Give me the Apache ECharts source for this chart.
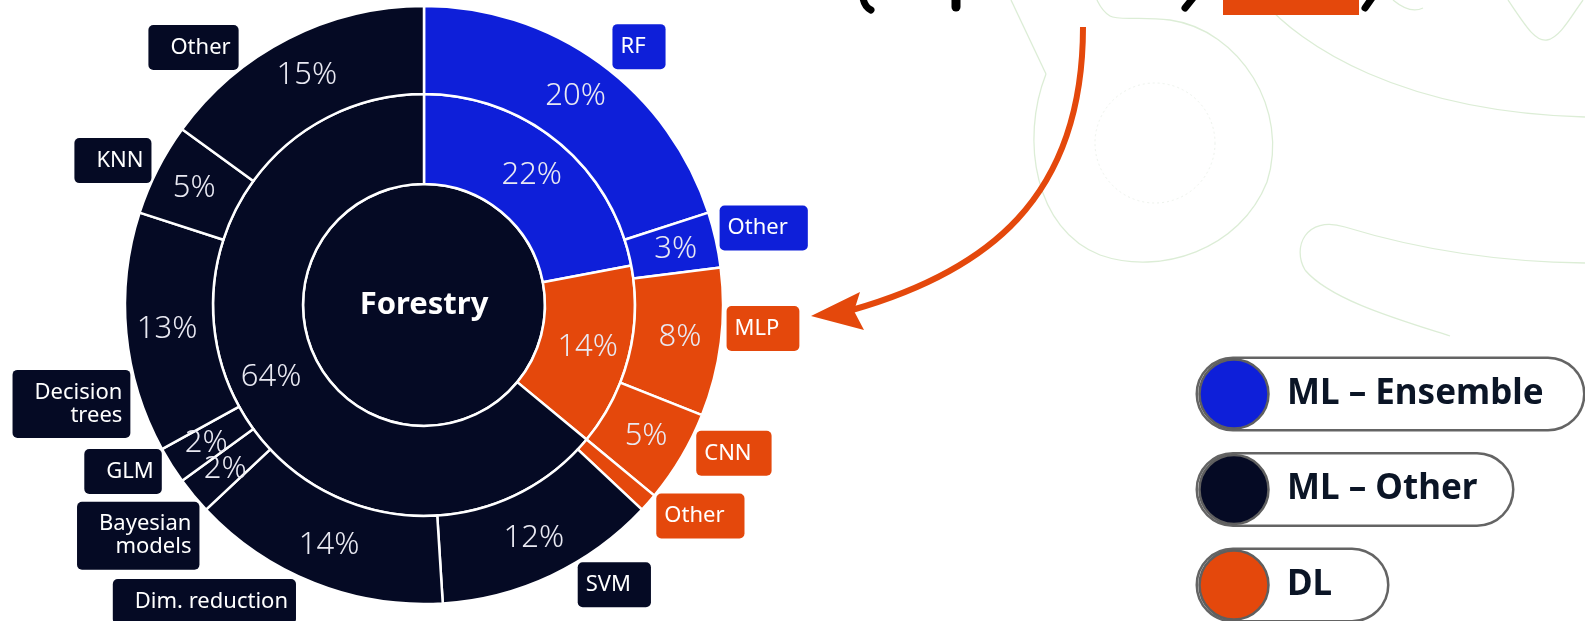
<!DOCTYPE html>
<html>
<head>
<meta charset="utf-8">
<script src="https://cdn.jsdelivr.net/npm/echarts@6/dist/echarts.min.js"></script>
<style>
  html, body { margin: 0; padding: 0; background: #ffffff; }
  #chart { width: 1585px; height: 621px; }
</style>
</head>
<body>
<div id="chart"></div>
<script>
// Inner ring: model families (share of studies, %)
const familyNames = ['ML – Ensemble', 'DL', 'ML – Other'];
const familyShares = [22, 14, 64];
const familyColors = ['#0e1fd9', '#e4480c', '#050a24'];

// Outer ring: individual methods in ring order, with the family each belongs to
const methodNames = ['RF', 'Other', 'MLP', 'CNN', 'Other', 'SVM', 'Dim. reduction',
  'Bayesian\nmodels', 'GLM', 'Decision\ntrees', 'KNN', 'Other'];
const methodShares = [20, 3, 8, 5, 1, 12, 14, 2, 2, 13, 5, 15];
const methodFamily = [0, 0, 1, 1, 1, 2, 2, 2, 2, 2, 2, 2];

const centerTitle = 'Forestry';
const legendOrder = [0, 2, 1];

// Small offsets that keep the name tags clear of one another
const tagNudge = [[3, -10], [-9, -10], [-7, -15], [3, -8], [-3, 8], [18, 2],
  [-10, 11], [17, 35], [2, 2], [17, 70], [6, -5], [-41, 16]];
// Legend pill widths
const pillWidths = [385, 314, 189];

const FONT = '"Noto Sans", "Open Sans", sans-serif';
const CX = 424, CY = 305;
const HOLE_R = 121, MID_R = 211, OUT_R = 299;

const chart = echarts.init(document.getElementById('chart'), null, { renderer: 'canvas' });

const pctLabel = {
  show: true, position: 'inside', formatter: '{c}%',
  color: '#e9e9f2', fontSize: 31, fontWeight: 300, fontFamily: FONT
};

const innerData = familyShares.map((v, i) => ({
  name: familyNames[i], value: v, itemStyle: { color: familyColors[i] }
}));

const outerData = methodShares.map((v, i) => ({
  name: methodNames[i], value: v,
  itemStyle: { color: familyColors[methodFamily[i]] },
  label: { show: v >= 2 }
}));

// Name tags sit outside the outer ring; left-hand tags get their padding on the outer side
const total = methodShares.reduce((a, b) => a + b, 0);
let run = 0;
const tagData = methodShares.map((v, i) => {
  const mid = (run + v / 2) / total;
  run += v;
  const rightSide = mid < 0.5;
  return {
    name: methodNames[i], value: v,
    itemStyle: { color: 'rgba(0,0,0,0)', borderWidth: 0 },
    label: {
      backgroundColor: familyColors[methodFamily[i]],
      padding: rightSide ? [11, 20, 11, 8] : [11, 8, 11, 22]
    }
  };
});

// Cubic curve helper for the decorative strokes
function curve(p, style, z) {
  return { type: 'bezierCurve', silent: true, z: z || 0,
    shape: { x1: p[0], y1: p[1], cpx1: p[2], cpy1: p[3], cpx2: p[4], cpy2: p[5], x2: p[6], y2: p[7] },
    style: Object.assign({ fill: null }, style) };
}

const deco = { stroke: '#dcedd6', lineWidth: 1.3 };
const graphics = [
  // faint background doodles
  { type: 'line', silent: true, z: -10, shape: { x1: 1011, y1: 0, x2: 1046, y2: 74 }, style: deco },
  curve([1046, 74, 1020, 140, 1035, 230, 1100, 255], deco, -10),
  curve([1100, 255, 1160, 276, 1240, 250, 1267, 182], deco, -10),
  curve([1267, 182, 1290, 110, 1240, 30, 1170, 20], deco, -10),
  curve([1170, 20, 1140, 16, 1118, 21, 1110, 16], deco, -10),
  curve([1110, 16, 1102, 11, 1099, 4, 1097, 0], deco, -10),
  { type: 'circle', z: -10, silent: true, shape: { cx: 1155, cy: 143, r: 60 },
    style: { fill: null, stroke: '#eef3ed', lineWidth: 1, lineDash: [2, 3] } },
  curve([1262, 0, 1300, 45, 1400, 112, 1585, 117], deco, -10),
  curve([1508, 0, 1525, 25, 1535, 42, 1547, 40], deco, -10),
  curve([1547, 40, 1560, 38, 1572, 15, 1583, 0], deco, -10),
  curve([1393, 0, 1405, 10, 1415, 12, 1423, 8], deco, -10),
  curve([1585, 263, 1500, 262, 1420, 250, 1345, 227], deco, -10),
  curve([1345, 227, 1305, 215, 1292, 248, 1305, 270], deco, -10),
  curve([1305, 270, 1330, 300, 1400, 320, 1450, 336], deco, -10),

  // lower edge of the heading line that runs above the chart
  curve([863, -2, 864, 4, 867, 8, 871, 10], { stroke: '#000', lineWidth: 7, lineCap: 'round' }),
  { type: 'line', silent: true, shape: { x1: 956, y1: -4, x2: 956, y2: 7 },
    style: { stroke: '#000', lineWidth: 9, lineCap: 'round' } },
  { type: 'line', silent: true, shape: { x1: 1193, y1: -2, x2: 1185, y2: 8 },
    style: { stroke: '#000', lineWidth: 7, lineCap: 'round' } },
  { type: 'line', silent: true, shape: { x1: 1372, y1: -2, x2: 1365, y2: 8 },
    style: { stroke: '#000', lineWidth: 7, lineCap: 'round' } },
  { type: 'rect', silent: true, shape: { x: 1223, y: -10, width: 136, height: 25 },
    style: { fill: '#e4480c' } },

  // arrow pointing at the MLP tag
  curve([1083, 27, 1083, 200, 985, 272, 852, 310], { stroke: '#e4480c', lineWidth: 6 }),
  { type: 'polygon', silent: true, shape: { points: [[811, 316], [860, 292], [854, 311], [864, 330]] },
    style: { fill: '#e4480c' } }
];

// Legend pills
legendOrder.forEach((idx, k) => {
  const cy = 394 + k * 95.5;
  graphics.push({
    type: 'text', silent: true, x: 1198, y: cy - 35,
    style: {
      text: familyNames[idx], font: 'bold 35px ' + FONT, fill: '#0b1526',
      width: pillWidths[k] - 89, overflow: 'none',
      backgroundColor: '#ffffff', borderColor: '#646464', borderWidth: 2.5, borderRadius: 35,
      padding: [11, 0, 11, 89], lineHeight: 48, verticalAlign: 'top', align: 'left'
    }
  });
  graphics.push({
    type: 'circle', silent: true, shape: { cx: 1234, cy: cy, r: 34.5 },
    style: { fill: familyColors[idx], stroke: '#5f5f5f', lineWidth: 2.5 }
  });
});

chart.setOption({
  backgroundColor: '#ffffff',
  animation: false,
  graphic: graphics,
  series: [
    {
      type: 'pie', name: 'centre', center: [CX, CY], radius: [0, HOLE_R],
      silent: true, startAngle: 90,
      data: [{ name: centerTitle, value: 1 }],
      itemStyle: { color: familyColors[2], borderColor: '#ffffff', borderWidth: 2.5 },
      label: { show: true, position: 'center', formatter: '{b}', color: '#ffffff',
        fontSize: 31, fontWeight: 'bold', fontFamily: FONT },
      labelLine: { show: false }
    },
    {
      type: 'pie', name: 'families', center: [CX, CY], radius: [HOLE_R, MID_R],
      silent: true, startAngle: 90, clockwise: true, avoidLabelOverlap: false,
      data: innerData,
      itemStyle: { borderColor: '#ffffff', borderWidth: 2.5 },
      label: pctLabel, labelLine: { show: false }
    },
    {
      type: 'pie', name: 'methods', center: [CX, CY], radius: [MID_R, OUT_R],
      silent: true, startAngle: 90, clockwise: true, avoidLabelOverlap: false,
      data: outerData,
      itemStyle: { borderColor: '#ffffff', borderWidth: 2.5 },
      label: pctLabel, labelLine: { show: false },
      labelLayout: { hideOverlap: false }
    },
    {
      type: 'pie', name: 'tags', center: [CX, CY], radius: [MID_R, OUT_R],
      silent: true, startAngle: 90, clockwise: true, avoidLabelOverlap: false, z: 5,
      data: tagData,
      label: {
        show: true, position: 'outside', formatter: '{b}', color: '#ffffff',
        fontSize: 22, lineHeight: 23, fontFamily: FONT, borderRadius: 5,
        distanceToLabelLine: 5
      },
      labelLine: { show: false, length: 8, length2: 0 },
      labelLayout: function (p) {
        const n = tagNudge[p.dataIndex];
        return { dx: n[0], dy: n[1], hideOverlap: false };
      }
    }
  ]
});
</script>
</body>
</html>
